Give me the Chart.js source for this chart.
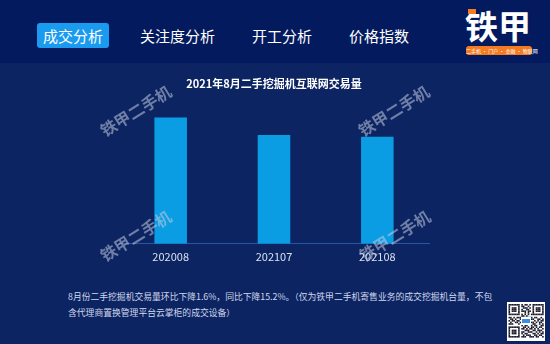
<!DOCTYPE html>
<html>
<head>
<meta charset="utf-8">
<script src="https://cdn.jsdelivr.net/npm/chart.js@4.4.0/dist/chart.umd.min.js"></script>
<style>
    html, body {
        margin: 0;
        padding: 0;
        width: 550px;
        height: 344px;
        overflow: hidden;
        background: #0c2462;
        font-family: "Noto Sans CJK SC", "Noto Sans", sans-serif;
    }
    .header {
        position: absolute;
        left: 0;
        top: 0;
        width: 550px;
        height: 63px;
        background: #031a5e;
    }
    .tab {
        position: absolute;
        top: 23px;
        height: 25px;
        line-height: 25px;
        font-size: 15px;
        color: #ffffff;
        white-space: nowrap;
    }
    .tab.active {
        background: #1a9bf0;
        border-radius: 3px;
        padding: 0 6px;
    }
    .logo {
        position: absolute;
        left: 465px;
        top: 3px;
        font-size: 33px;
        font-weight: bold;
        color: #ffffff;
        letter-spacing: 0;
        line-height: 44px;
    }
    .logo-mark {
        position: absolute;
        left: 468px;
        top: 9px;
        width: 8px;
        height: 5px;
        background: #f47b20;
    }
    .slogan {
        position: absolute;
        left: 466px;
        top: 46px;
        width: 66px;
        height: 9px;
        background: #f47b20;
        border-radius: 3px;
        color: #ffffff;
        font-size: 5px;
        line-height: 9px;
        text-align: center;
        white-space: nowrap;
    }
    .note {
        position: absolute;
        left: 68px;
        color: #cfd7ea;
        font-size: 8.8px;
        white-space: nowrap;
    }
    #qr {
        position: absolute;
        left: 507px;
        top: 302px;
    }
    #chart {
        position: absolute;
        left: 0;
        top: 0;
    }
</style>
</head>
<body>
<div class="header"></div>
<div class="tab active" style="left:37px;">成交分析</div>
<div class="tab" style="left:140px;">关注度分析</div>
<div class="tab" style="left:252px;">开工分析</div>
<div class="tab" style="left:349px;">价格指数</div>
<div class="logo">铁甲</div>
<div class="logo-mark"></div>
<div class="slogan">二手机 · 门户 · 金融 · 物联网</div>

<div class="note" style="top:290px;">8月份二手挖掘机交易量环比下降1.6%，同比下降15.2%。（仅为铁甲二手机寄售业务的成交挖掘机台量，不包</div>
<div class="note" style="top:306px;">含代理商置换管理平台云掌柜的成交设备）</div>

<canvas id="qr" width="38" height="39"></canvas>
<canvas id="chart" width="550" height="344"></canvas>

<script>
// Monthly online transaction volume of used excavators
const MONTHS = ['202008', '202107', '202108'];
const VOLUMES = [1000, 862, 848];
const Y_MAX = 1122;

const CHART_TITLE = '2021年8月二手挖掘机互联网交易量';
const WATERMARK = '铁甲二手机';
const WATERMARK_SPOTS = [[136, 111], [394, 111], [136, 236], [395, 236]];

const FONT = '"Noto Sans CJK SC", "Noto Sans", sans-serif';

// Diagonal brand text stamped over the plot
const watermarkPlugin = {
    id: 'watermark',
    afterDraw(chart) {
        const ctx = chart.ctx;
        ctx.save();
        ctx.font = 'bold 16px ' + FONT;
        ctx.fillStyle = 'rgba(195, 202, 222, 0.55)';
        ctx.textAlign = 'center';
        ctx.textBaseline = 'middle';
        WATERMARK_SPOTS.forEach(([x, y]) => {
            ctx.save();
            ctx.translate(x, y);
            ctx.rotate(-32 * Math.PI / 180);
            ctx.fillText(WATERMARK, 0, 0);
            ctx.restore();
        });
        ctx.restore();
    }
};

new Chart(document.getElementById('chart').getContext('2d'), {
    type: 'bar',
    data: {
        labels: MONTHS,
        datasets: [{
            data: VOLUMES,
            backgroundColor: '#0b9de3',
            borderWidth: 0,
            barPercentage: 0.315,
            categoryPercentage: 1
        }]
    },
    options: {
        responsive: false,
        animation: false,
        layout: {
            padding: { top: 77, left: 119, right: 121, bottom: 75 }
        },
        plugins: {
            legend: { display: false },
            tooltip: { enabled: false },
            title: {
                display: true,
                text: CHART_TITLE,
                color: '#ffffff',
                font: { family: FONT, size: 11, weight: 'bold', lineHeight: 1.2 },
                padding: { top: 0, bottom: 12 }
            }
        },
        scales: {
            x: {
                grid: { display: false, drawTicks: false },
                border: { display: true, color: '#2456a8', width: 1 },
                ticks: {
                    color: '#d8e0f0',
                    padding: 6,
                    font: { family: FONT, size: 11 }
                }
            },
            y: {
                display: false,
                min: 0,
                max: Y_MAX
            }
        }
    },
    plugins: [watermarkPlugin]
});

// Small QR badge in the corner
(function drawQr() {
    const rows = [
        '1111111010110101111111',
        '1000001011001001000001',
        '1011101001110101011101',
        '1011101010011001011101',
        '1011101011101101011101',
        '1000001000101001000001',
        '1111111010101011111111',
        '0000000011010000000000',
        '1101011100101110110010',
        '0110100101100011001101',
        '1011011000111100101011',
        '0100110110000011010110',
        '1110001011011101100101',
        '0000000010110010110011',
        '1111111001101011010110',
        '1000001011010110101001',
        '1011101000111001101110',
        '1011101011001110010101',
        '1011101010110001101011',
        '1000001001011100110110',
        '1111111011100111011001'
    ];
    const c = document.getElementById('qr').getContext('2d');
    c.fillStyle = '#ffffff';
    c.fillRect(0, 0, 38, 39);
    const cell = 1.6;
    c.fillStyle = '#1a1a2a';
    rows.forEach((row, r) => {
        for (let i = 0; i < row.length; i++) {
            if (row[i] === '1') c.fillRect(1.5 + i * cell, 2 + r * cell, cell, cell);
        }
    });
    // centre badge
    c.fillStyle = '#ffffff';
    c.fillRect(14, 15, 10, 8);
    c.fillStyle = '#3a8ee6';
    c.fillRect(15, 17, 8, 4);
})();
</script>
</body>
</html>
